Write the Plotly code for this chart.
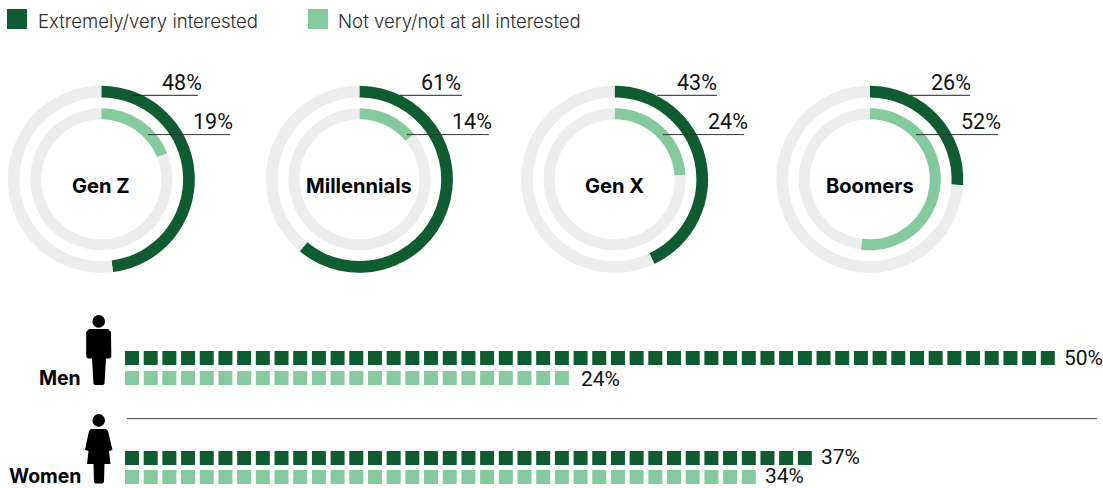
import plotly.graph_objects as go

WIDTH, HEIGHT = 1103, 488

# Share of each group by level of interest
generations = ["Gen Z", "Millennials", "Gen X", "Boomers"]
gen_interested = [48, 61, 43, 26]
gen_not_interested = [19, 14, 24, 52]

genders = ["Men", "Women"]
gender_interested = [50, 37]
gender_not_interested = [24, 34]

legend_labels = ["Extremely/very interested", "Not very/not at all interested"]

DARK = "#0f5c30"
LIGHT = "#85ca9e"
TRACK = "#ededed"
INK = "#111111"
PCT_FONT = "Roboto"
TEXT_FONT = "Inter"

# Ring geometry, in pixels
RING_CENTERS = [101.3, 359.4, 614.6, 869.8]
RING_CY = 179.3
OUTER = (93.5, 81.8)
INNER = (71, 60)
LEADERS = [((132, 198), (148, 230)), ((400, 462), (407, 489)),
           ((657, 717), (663, 744)), ((910, 970), (916, 998))]
LABEL_RIGHT = [(202, 233), (461, 492), (717, 747.5), (970.5, 1001)]

# Unit-square rows, in pixels
UNIT_X0 = 132
UNIT_PITCH = 18.69
ROW_Y = [(358, 378), (458, 477)]
ICON_LABEL_Y = [378, 476]
ROW_LABEL_Y = [(358, 379), (457, 476)]
ROW_LABEL_GAP = [(9, 12), (9, 9)]


def fx(px):
    return px / WIDTH


def fy(py):
    return 1 - py / HEIGHT


fig = go.Figure()


def add_ring(cx, radii, value, color):
    r, inner_r = radii
    fig.add_trace(go.Pie(
        values=[value, 100 - value],
        marker=dict(colors=[color, TRACK], line=dict(width=0)),
        hole=inner_r / r,
        sort=False,
        direction="clockwise",
        rotation=0,
        textinfo="none",
        hoverinfo="skip",
        showlegend=False,
        domain=dict(x=[fx(cx - r), fx(cx + r)],
                    y=[fy(RING_CY + r), fy(RING_CY - r)]),
    ))


def text(px, py, s, anchor, size, color=INK, family=TEXT_FONT, weight=400):
    fig.add_annotation(
        xref="paper", yref="paper", x=fx(px), y=fy(py), text=s,
        showarrow=False, xanchor=anchor, yanchor="middle",
        xshift=0, yshift=0, borderpad=0, borderwidth=0,
        font=dict(family=family, size=size, color=color, weight=weight),
    )


def rule(x0, x1, y, color="#222222", width=1):
    fig.add_shape(type="line", xref="paper", yref="paper",
                  x0=fx(x0), x1=fx(x1), y0=fy(y), y1=fy(y),
                  line=dict(color=color, width=width), layer="above")


def swatch(x0, y0, size, color):
    fig.add_shape(type="rect", xref="paper", yref="paper",
                  x0=fx(x0), x1=fx(x0 + size), y0=fy(y0), y1=fy(y0 + size),
                  fillcolor=color, line=dict(width=0))


def silhouette(points, cx, cy, r):
    # Head circle plus a closed body outline
    fig.add_shape(type="circle", xref="paper", yref="paper",
                  x0=fx(cx - r), x1=fx(cx + r), y0=fy(cy + r), y1=fy(cy - r),
                  fillcolor="#000000", line=dict(width=0))
    path = "M " + " L ".join(f"{fx(x):.5f},{fy(y):.5f}" for x, y in points) + " Z"
    fig.add_shape(type="path", xref="paper", yref="paper", path=path,
                  fillcolor="#000000", line=dict(width=0))


# Generation rings
for i, gen in enumerate(generations):
    cx = RING_CENTERS[i]
    add_ring(cx, OUTER, gen_interested[i], DARK)
    add_ring(cx, INNER, gen_not_interested[i], LIGHT)
    text(cx - 0.3, 186, f"<b>{gen}</b>", "center", 20.1, color="#000000")
    (a0, a1), (b0, b1) = LEADERS[i]
    rule(a0, a1, 95.3)
    rule(b0, b1, 134.6, color="#333333")
    r0, r1 = LABEL_RIGHT[i]
    text(r0, 82, f"{gen_interested[i]}%", "right", 21.5, family=PCT_FONT)
    text(r1, 121, f"{gen_not_interested[i]}%", "right", 21.5, family=PCT_FONT)

# Gender unit-square rows: one square per percentage point
for i, gender in enumerate(genders):
    for value, color, y in ((gender_interested[i], DARK, ROW_Y[i][0]),
                            (gender_not_interested[i], LIGHT, ROW_Y[i][1])):
        fig.add_trace(go.Scatter(
            x=list(range(value)), y=[y] * value, mode="markers",
            marker=dict(symbol="square", size=14, color=color, line=dict(width=0)),
            hoverinfo="skip", showlegend=False,
        ))
    text(81, ICON_LABEL_Y[i], f"<b>{gender}</b>", "right", 19.4, color="#000000")
    for value, y, gap in ((gender_interested[i], ROW_LABEL_Y[i][0], ROW_LABEL_GAP[i][0]),
                          (gender_not_interested[i], ROW_LABEL_Y[i][1], ROW_LABEL_GAP[i][1])):
        end = UNIT_X0 + (value - 1) * UNIT_PITCH + 7
        text(end + gap, y, f"{value}%", "left", 21, family=PCT_FONT)

rule(127, 1097, 418.6, color="#444444")

# Figures beside the gender rows
man = [(89, 329), (108, 329), (111, 332), (111.3, 357), (109.5, 358.5), (106, 358.5),
       (104.5, 384), (103, 385), (95, 385), (93.5, 384), (92, 358.5), (88, 358.5),
       (86.2, 357), (86.2, 332)]
woman = [(91, 429), (106, 429), (108, 431), (112.5, 450), (109, 451), (110.5, 464),
         (104.5, 464), (104, 482), (102.5, 483.5), (95.5, 483.5), (94, 482), (93.5, 464),
         (87, 464), (88.5, 451), (85, 450), (89, 431)]
silhouette(man, 98.7, 321.4, 6.3)
silhouette(woman, 98.7, 420.4, 6.3)

# Legend
swatch(7, 9, 20, DARK)
swatch(308, 9, 20, LIGHT)
text(38, 21, legend_labels[0], "left", 18.6, color="#2b2b2b", weight=300)
text(338, 21, legend_labels[1], "left", 18.6, color="#2b2b2b", weight=300)

fig.update_layout(
    width=WIDTH, height=HEIGHT, margin=dict(l=0, r=0, t=0, b=0),
    paper_bgcolor="#ffffff", plot_bgcolor="rgba(0,0,0,0)",
    showlegend=False,
    xaxis=dict(visible=False, domain=[0, 1],
               range=[-UNIT_X0 / UNIT_PITCH, (WIDTH - UNIT_X0) / UNIT_PITCH]),
    yaxis=dict(visible=False, domain=[0, 1], range=[HEIGHT, 0]),
)

fig.write_html("out.html", config=dict(displayModeBar=False))
